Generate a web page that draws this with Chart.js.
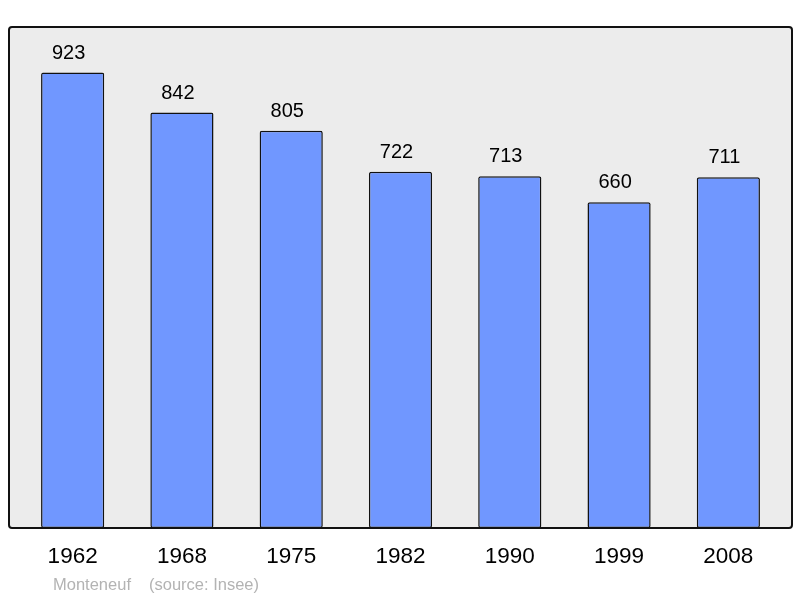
<!DOCTYPE html>
<html>
<head>
<meta charset="utf-8">
<script src="https://cdn.jsdelivr.net/npm/chart.js@4/dist/chart.umd.min.js"></script>
<style>
    html, body { margin: 0; padding: 0; background: #ffffff; }
    #wrap { width: 800px; height: 598px; position: relative; }
</style>
</head>
<body>
<div id="wrap"><canvas id="popChart"></canvas></div>
<script>
const years = ['1962', '1968', '1975', '1982', '1990', '1999', '2008'];
const population = [923, 842, 805, 722, 713, 660, 711];
const placeName = 'Monteneuf';
const sourceNote = '(source: Insee)';

const FONT = '"Liberation Sans", Arial, sans-serif';

// frame behind the bars, stroke drawn over them
const framePlugin = {
    id: 'frame',
    beforeDatasetsDraw(chart) {
        const { ctx, chartArea } = chart;
        ctx.save();
        ctx.fillStyle = '#ececec';
        roundRect(ctx, 9, chartArea.top, 783, chartArea.bottom - chartArea.top, 3);
        ctx.fill();
        ctx.restore();
    },
    afterDatasetsDraw(chart) {
        const { ctx, chartArea } = chart;
        ctx.save();
        ctx.strokeStyle = '#111111';
        ctx.lineWidth = 2;
        roundRect(ctx, 9, chartArea.top, 783, chartArea.bottom - chartArea.top, 3);
        ctx.stroke();

        // value labels
        ctx.fillStyle = '#000000';
        ctx.font = '20px ' + FONT;
        ctx.textAlign = 'center';
        ctx.textBaseline = 'alphabetic';
        chart.getDatasetMeta(0).data.forEach((bar, i) => {
            ctx.fillText(String(population[i]), bar.x - 4, bar.y - 14);
        });

        // footer
        ctx.fillStyle = '#b3b3b3';
        ctx.font = '16.5px ' + FONT;
        ctx.textAlign = 'left';
        ctx.fillText(placeName, 53, 590);
        ctx.fillText(sourceNote, 149, 590);
        ctx.restore();
    }
};

function roundRect(ctx, x, y, w, h, r) {
    ctx.beginPath();
    ctx.moveTo(x + r, y);
    ctx.lineTo(x + w - r, y);
    ctx.quadraticCurveTo(x + w, y, x + w, y + r);
    ctx.lineTo(x + w, y + h - r);
    ctx.quadraticCurveTo(x + w, y + h, x + w - r, y + h);
    ctx.lineTo(x + r, y + h);
    ctx.quadraticCurveTo(x, y + h, x, y + h - r);
    ctx.lineTo(x, y + r);
    ctx.quadraticCurveTo(x, y, x + r, y);
    ctx.closePath();
}

function initializeChart() {
    const ctx = document.getElementById('popChart').getContext('2d');
    return new Chart(ctx, {
        type: 'bar',
        data: {
            labels: years,
            datasets: [{
                data: population,
                backgroundColor: '#7097ff',
                borderColor: '#111111',
                borderWidth: 1.5,
                borderRadius: 2,
                borderSkipped: false,
                barPercentage: 0.578,
                categoryPercentage: 1
            }]
        },
        options: {
            responsive: true,
            maintainAspectRatio: false,
            animation: false,
            layout: {
                padding: { left: 18, right: 17, top: 27, bottom: 0 }
            },
            plugins: {
                legend: { display: false },
                tooltip: { enabled: false }
            },
            scales: {
                y: {
                    display: false,
                    min: 0,
                    max: 1015.3
                },
                x: {
                    grid: { display: false, drawTicks: false },
                    border: { display: false },
                    ticks: {
                        color: '#000000',
                        padding: 15,
                        font: { family: FONT, size: 22.5 }
                    },
                    afterFit(scale) {
                        scale.height = 70;
                    }
                }
            }
        },
        plugins: [framePlugin]
    });
}

document.addEventListener('DOMContentLoaded', function() {
    window.popChart = initializeChart();
});
</script>
</body>
</html>
